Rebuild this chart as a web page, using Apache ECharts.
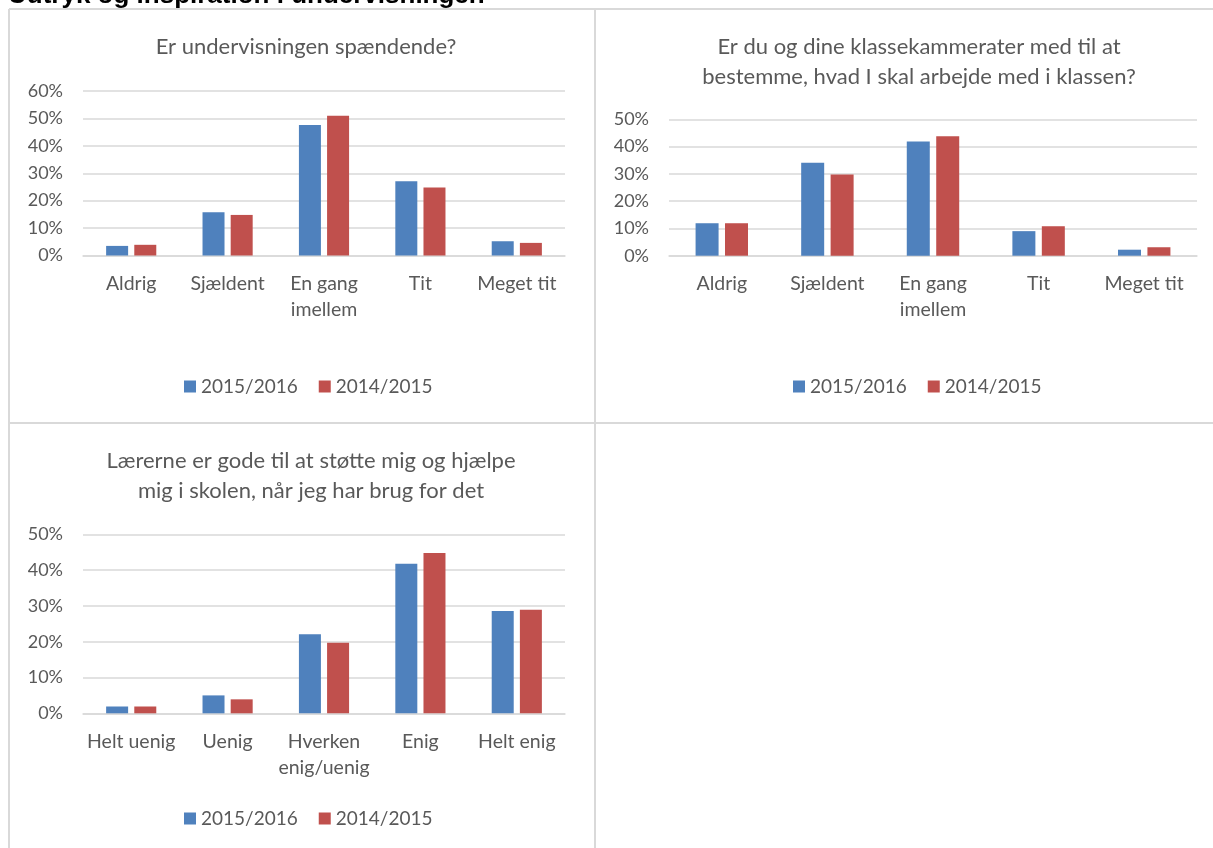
<!DOCTYPE html>
<html>
<head>
<meta charset="utf-8">
<script src="https://cdn.jsdelivr.net/npm/echarts@6/dist/echarts.min.js"></script>
<style>
  html, body { margin: 0; padding: 0; background: #fff; }
  #chart { width: 1213px; height: 848px; }
</style>
</head>
<body>
<div id="chart"></div>
<script>
// data, values in percent
const seriesNames = ['2015/2016', '2014/2015']

const cats1 = ['Aldrig', 'Sjældent', 'En gang\nimellem', 'Tit', 'Meget tit']
const spaendende2015 = [3.5, 15.8, 47.6, 27.1, 5.2]
const spaendende2014 = [3.9, 14.8, 51.0, 24.8, 4.6]

const cats2 = ['Aldrig', 'Sjældent', 'En gang\nimellem', 'Tit', 'Meget tit']
const bestemme2015 = [11.9, 34.1, 41.9, 9.0, 2.2]
const bestemme2014 = [11.9, 29.8, 43.8, 10.8, 3.1]

const cats3 = ['Helt uenig', 'Uenig', 'Hverken\nenig/uenig', 'Enig', 'Helt enig']
const stoette2015 = [1.9, 5.0, 22.1, 41.8, 28.6]
const stoette2014 = [1.9, 3.9, 19.7, 44.8, 28.9]

const textColor = '#595959'
const gridColor = '#d9d9d9'
const blue = '#4F81BD'
const red = '#C0504D'
const font = 'Lato'

function xAxisFor(idx, cats) {
  return {
    type: 'category',
    gridIndex: idx,
    data: cats,
    axisLine: { show: true, lineStyle: { color: gridColor, width: 1.5 } },
    axisTick: { show: false },
    axisLabel: { color: textColor, fontSize: 19.5, fontFamily: font, lineHeight: 26, margin: 15, interval: 0 },
  }
}

function yAxisFor(idx, max) {
  return {
    type: 'value',
    gridIndex: idx,
    min: 0,
    max: max,
    interval: 10,
    axisLine: { show: false },
    axisTick: { show: false },
    axisLabel: { color: textColor, fontSize: 18, fontFamily: font, margin: 20, formatter: '{value}%' },
    splitLine: { lineStyle: { color: gridColor, width: 1.5 } },
  }
}

function barsFor(idx, a, b, width) {
  return [
    { name: seriesNames[0], type: 'bar', xAxisIndex: idx, yAxisIndex: idx, data: a, barWidth: width, barGap: '28%', itemStyle: { color: blue }, silent: true },
    { name: seriesNames[1], type: 'bar', xAxisIndex: idx, yAxisIndex: idx, data: b, barWidth: width, barGap: '28%', itemStyle: { color: red }, silent: true },
  ]
}

function legendAt(left, top) {
  return {
    data: seriesNames,
    left, top,
    padding: 0,
    itemWidth: 12, itemHeight: 12, itemGap: 21,
    icon: 'rect',
    selectedMode: false,
    textStyle: { color: textColor, fontSize: 19, fontFamily: font },
  }
}

function titleAt(text, left, top) {
  return {
    text, left, top, textAlign: 'center',
    textStyle: { color: textColor, fontSize: 22, fontWeight: 'normal', fontFamily: font, lineHeight: 30 },
  }
}

const border = { stroke: '#d9d9d9', lineWidth: 2 }

const chart = echarts.init(document.getElementById('chart'))
chart.setOption({
  animation: false,
  title: [
    titleAt('Er undervisningen spændende?', 301, 27),
    titleAt('Er du og dine klassekammerater med til at\nbestemme, hvad I skal arbejde med i klassen?', 914, 27),
    titleAt('Lærerne er gode til at støtte mig og hjælpe\nmig i skolen, når jeg har brug for det', 306, 441),
  ],
  legend: [legendAt(184, 377), legendAt(793, 377), legendAt(184, 809)],
  grid: [
    { left: 83, right: 648, top: 91, bottom: 592.5 },
    { left: 669, right: 16, top: 119.3, bottom: 592.3 },
    { left: 83, right: 648, top: 534.3, bottom: 134.7 },
  ],
  xAxis: [xAxisFor(0, cats1), xAxisFor(1, cats2), xAxisFor(2, cats3)],
  yAxis: [yAxisFor(0, 60), yAxisFor(1, 50), yAxisFor(2, 50)],
  series: [
    ...barsFor(0, spaendende2015, spaendende2014, 22),
    ...barsFor(1, bestemme2015, bestemme2014, 23),
    ...barsFor(2, stoette2015, stoette2014, 22),
  ],
  graphic: [
    { type: 'line', shape: { x1: 9, y1: 9, x2: 1213, y2: 9 }, style: border },
    { type: 'line', shape: { x1: 9, y1: 9, x2: 9, y2: 848 }, style: border },
    { type: 'line', shape: { x1: 595, y1: 9, x2: 595, y2: 848 }, style: border },
    { type: 'line', shape: { x1: 9, y1: 423, x2: 1213, y2: 423 }, style: border },
    {
      type: 'text', left: 8, top: -17,
      style: { text: 'Udtryk og inspiration i undervisningen', fill: '#000', font: 'bold 26px "Liberation Sans", Arial' },
    },
  ],
})
</script>
</body>
</html>
